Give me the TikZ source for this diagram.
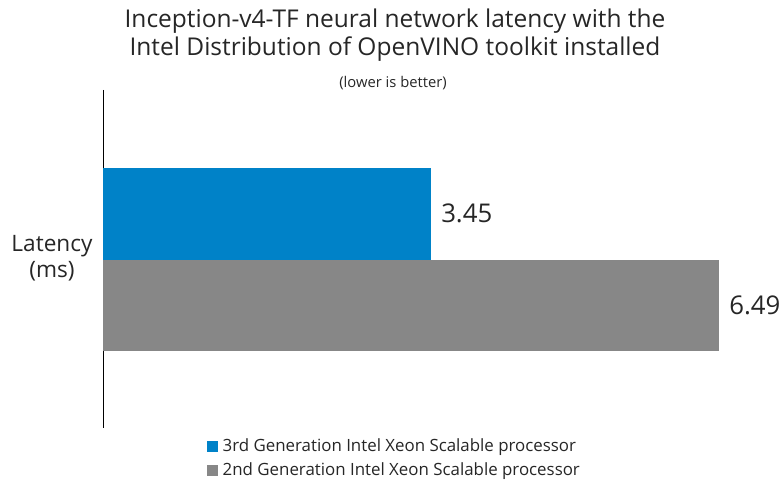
\documentclass[tikz,border=0pt]{standalone}
\usepackage{fontspec}
\setmainfont{Open Sans}[Ligatures=NoCommon]
\usepackage{tikz}
\usetikzlibrary{positioning}
\definecolor{barblue}{HTML}{0082C8}
\definecolor{bargray}{HTML}{878787}
\definecolor{txtgray}{HTML}{262626}

\begin{document}
\begin{tikzpicture}
  [
    x=0.03cm, y=-0.03cm,
    Bar/.style={anchor=north west, inner sep=0pt, outer sep=0pt, minimum height=2.75cm},
    Value/.style={inner sep=0pt, text=txtgray, font=\fontsize{22}{26}\selectfont},
    Swatch/.style={anchor=north west, inner sep=0pt, minimum size=0.33cm},
    Legend/.style={inner sep=0pt, text=txtgray, font=\fontsize{14.4}{17}\selectfont}
  ]
  \useasboundingbox (0,0) rectangle (783,484);
  % Title
  \node[text=txtgray, align=center, font=\fontsize{20.9}{24}\selectfont] (title) at (395,35)
    {Inception-v4-TF neural network latency with the\\Intel Distribution of OpenVINO toolkit installed};
  \node[text=txtgray, font=\fontsize{12.6}{14}\selectfont, inner sep=0pt] (note) at (393,83) {(lower is better)};

  % Axis
  \coordinate (atop) at (103,90);
  \coordinate (abot) at (103,428);
  \draw[black, line width=0.8pt] (atop) -- (abot);
  \node[text=txtgray, align=center, font=\fontsize{19.3}{22}\selectfont] (ylab) at (52,258) {Latency\\(ms)};

  % Bars
  \node[Bar, fill=barblue, minimum width=9.84cm] (third) at (103,168) {};
  \node[Bar, fill=bargray, minimum width=18.48cm] (second) at (third.south west) {};
  \node[Value, right=0.3cm of third] (vthird) {3.45};
  \node[Value, right=0.3cm of second] (vsecond) {6.49};

  % Legend
  \node[Swatch, fill=barblue] (sthird) at (207,441) {};
  \node[Legend, right=0.12cm of sthird] (lthird) {3rd Generation Intel Xeon Scalable processor};
  \node[Swatch, fill=bargray] (ssecond) at (207,465) {};
  \node[Legend, right=0.12cm of ssecond] (lsecond) {2nd Generation Intel Xeon Scalable processor};
\end{tikzpicture}
\end{document}
